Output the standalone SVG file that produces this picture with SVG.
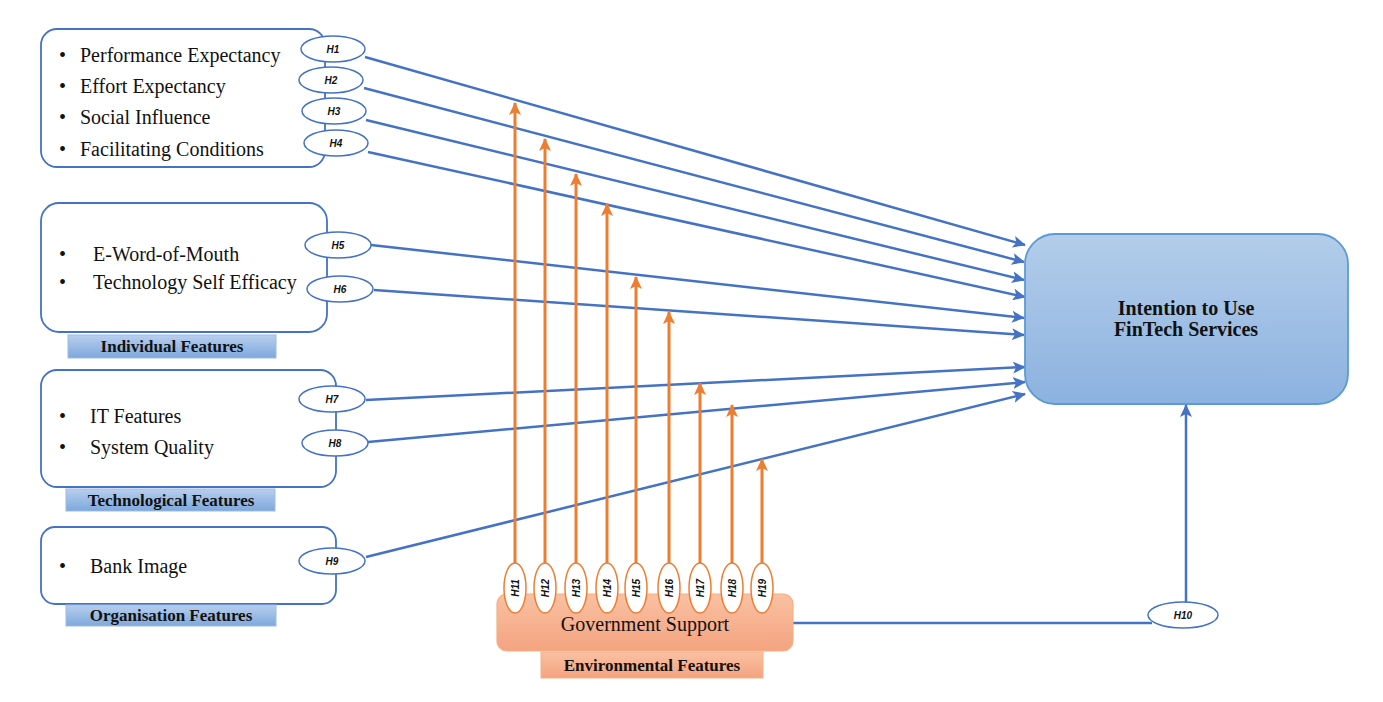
<svg xmlns="http://www.w3.org/2000/svg" width="1383" height="702" viewBox="0 0 1383 702">
<defs>
<linearGradient id="gBlue" x1="0" y1="0" x2="0" y2="1"><stop offset="0" stop-color="#b3cdea"/><stop offset="1" stop-color="#8cb2e0"/></linearGradient>
<linearGradient id="gLab" x1="0" y1="0" x2="0" y2="1"><stop offset="0" stop-color="#b7cfee"/><stop offset="1" stop-color="#7ea8dc"/></linearGradient>
<linearGradient id="gOr" x1="0" y1="0" x2="0" y2="1"><stop offset="0" stop-color="#f9c1a3"/><stop offset="1" stop-color="#f4a37f"/></linearGradient>
<marker id="ab" markerUnits="userSpaceOnUse" markerWidth="14" markerHeight="12" refX="12" refY="6" orient="auto"><path d="M0,0 L13,6 L0,12 L3,6 Z" fill="#4472c4"/></marker>
<marker id="ao" markerUnits="userSpaceOnUse" markerWidth="14" markerHeight="12" refX="12" refY="6" orient="auto"><path d="M0,0 L13,6 L0,12 L3,6 Z" fill="#ed7d31"/></marker>
<style>
.box{fill:#fff;stroke:#4472c4;stroke-width:1.8}
.t{font-family:"Liberation Serif",serif;font-size:20px;fill:#111}
.lab{font-family:"Liberation Serif",serif;font-size:17px;font-weight:bold;fill:#111;text-anchor:middle}
.labr{fill:url(#gLab);stroke:#9dbbe3;stroke-width:1}
.ell{fill:#fff;stroke:#4472c4;stroke-width:1.5}
.ello{fill:#fff;stroke:#ed7d31;stroke-width:1.5}
.h{font-family:"Liberation Sans",sans-serif;font-size:10px;font-weight:bold;font-style:italic;fill:#111;text-anchor:middle}
.cb{stroke:#4472c4;stroke-width:2.5;fill:none;marker-end:url(#ab)}
.cbn{stroke:#4472c4;stroke-width:2.5;fill:none}
.co{stroke:#ed7d31;stroke-width:3;fill:none;marker-end:url(#ao)}
</style>
</defs>

<g id="connectors">
<line class="cb" x1="365" y1="57" x2="1025" y2="245"/>
<line class="cb" x1="364" y1="88" x2="1024" y2="262"/>
<line class="cb" x1="366" y1="120" x2="1024" y2="280"/>
<line class="cb" x1="368" y1="152" x2="1025" y2="297"/>
<line class="cb" x1="371" y1="245" x2="1024" y2="318"/>
<line class="cb" x1="374" y1="290" x2="1024" y2="335"/>
<line class="cb" x1="366" y1="400" x2="1025" y2="367"/>
<line class="cb" x1="368" y1="442" x2="1025" y2="382"/>
<line class="cb" x1="366" y1="557" x2="1025" y2="394"/>
<line class="cbn" x1="793" y1="623" x2="1152" y2="623"/>
<line class="cb" x1="1186" y1="602" x2="1186" y2="405"/>
<line class="co" x1="515" y1="565" x2="515" y2="103"/>
<line class="co" x1="545" y1="565" x2="545" y2="139"/>
<line class="co" x1="576" y1="565" x2="576" y2="174"/>
<line class="co" x1="607" y1="565" x2="607" y2="204"/>
<line class="co" x1="636" y1="565" x2="636" y2="277"/>
<line class="co" x1="669" y1="565" x2="669" y2="312"/>
<line class="co" x1="700" y1="565" x2="700" y2="383"/>
<line class="co" x1="732" y1="565" x2="732" y2="405"/>
<line class="co" x1="762" y1="565" x2="762" y2="459"/>
</g>

<g id="node-uta">
<rect class="box" x="41" y="29" width="284" height="138" rx="16"/>
<text class="t" x="59" y="62">•</text><text class="t" x="80" y="62">Performance Expectancy</text>
<text class="t" x="59" y="93">•</text><text class="t" x="80" y="93">Effort Expectancy</text>
<text class="t" x="59" y="124">•</text><text class="t" x="80" y="124">Social Influence</text>
<text class="t" x="59" y="156">•</text><text class="t" x="80" y="156">Facilitating Conditions</text>
</g>

<g id="node-individual">
<rect class="box" x="41" y="203" width="286" height="129" rx="18"/>
<text class="t" x="59" y="261">•</text><text class="t" x="93" y="261">E-Word-of-Mouth</text>
<text class="t" x="59" y="289">•</text><text class="t" x="93" y="289">Technology Self Efficacy</text>
<rect class="labr" x="68" y="335" width="208" height="23"/>
<text class="lab" x="172" y="352">Individual Features</text>
</g>

<g id="node-technological">
<rect class="box" x="41" y="370" width="295" height="117" rx="16"/>
<text class="t" x="59" y="423">•</text><text class="t" x="90" y="423">IT Features</text>
<text class="t" x="59" y="454">•</text><text class="t" x="90" y="454">System Quality</text>
<rect class="labr" x="66" y="489" width="209" height="22"/>
<text class="lab" x="171" y="506">Technological Features</text>
</g>

<g id="node-organisation">
<rect class="box" x="41" y="527" width="295" height="77" rx="14"/>
<text class="t" x="59" y="573">•</text><text class="t" x="90" y="573">Bank Image</text>
<rect class="labr" x="66" y="605" width="210" height="21"/>
<text class="lab" x="171" y="621">Organisation Features</text>
</g>

<g id="node-government">
<rect x="497" y="594" width="296" height="57" rx="10" fill="url(#gOr)" stroke="#f4b183" stroke-width="1.2"/>
<text class="t" x="645" y="631" text-anchor="middle">Government Support</text>
<rect x="541" y="652" width="222" height="26" fill="url(#gOr)" stroke="#f4b183" stroke-width="1"/>
<text class="lab" x="652" y="671">Environmental Features</text>
</g>

<g id="node-intention">
<rect x="1025" y="234" width="323" height="170" rx="30" fill="url(#gBlue)" stroke="#5b9bd5" stroke-width="1.8"/>
<text class="t" x="1186" y="315" text-anchor="middle" font-weight="bold">Intention to Use</text>
<text class="t" x="1186" y="336" text-anchor="middle" font-weight="bold">FinTech Services</text>
</g>

<g id="hyp-labels">
<ellipse class="ell" cx="333" cy="49" rx="32" ry="13"/><text class="h" x="333" y="53">H1</text>
<ellipse class="ell" cx="331" cy="80" rx="32" ry="13"/><text class="h" x="331" y="84">H2</text>
<ellipse class="ell" cx="334" cy="111" rx="32" ry="13"/><text class="h" x="334" y="115">H3</text>
<ellipse class="ell" cx="336" cy="143" rx="32" ry="13"/><text class="h" x="336" y="147">H4</text>
<ellipse class="ell" cx="338" cy="245" rx="33" ry="13"/><text class="h" x="338" y="249">H5</text>
<ellipse class="ell" cx="340" cy="289" rx="33" ry="13"/><text class="h" x="340" y="293">H6</text>
<ellipse class="ell" cx="332" cy="399" rx="33" ry="13"/><text class="h" x="332" y="403">H7</text>
<ellipse class="ell" cx="335" cy="443" rx="33" ry="13"/><text class="h" x="335" y="447">H8</text>
<ellipse class="ell" cx="332" cy="561" rx="33" ry="13"/><text class="h" x="332" y="565">H9</text>
<ellipse class="ell" cx="1183" cy="615" rx="35" ry="13"/><text class="h" x="1183" y="619">H10</text>
<ellipse class="ello" cx="515" cy="588" rx="11" ry="25"/><text class="h" transform="translate(518.5 588) rotate(-90)">H11</text>
<ellipse class="ello" cx="545" cy="588" rx="11" ry="25"/><text class="h" transform="translate(548.5 588) rotate(-90)">H12</text>
<ellipse class="ello" cx="576" cy="588" rx="11" ry="25"/><text class="h" transform="translate(579.5 588) rotate(-90)">H13</text>
<ellipse class="ello" cx="607" cy="588" rx="11" ry="25"/><text class="h" transform="translate(610.5 588) rotate(-90)">H14</text>
<ellipse class="ello" cx="636" cy="588" rx="11" ry="25"/><text class="h" transform="translate(639.5 588) rotate(-90)">H15</text>
<ellipse class="ello" cx="669" cy="588" rx="11" ry="25"/><text class="h" transform="translate(672.5 588) rotate(-90)">H16</text>
<ellipse class="ello" cx="700" cy="588" rx="11" ry="25"/><text class="h" transform="translate(703.5 588) rotate(-90)">H17</text>
<ellipse class="ello" cx="732" cy="588" rx="11" ry="25"/><text class="h" transform="translate(735.5 588) rotate(-90)">H18</text>
<ellipse class="ello" cx="762" cy="588" rx="11" ry="25"/><text class="h" transform="translate(765.5 588) rotate(-90)">H19</text>
</g>
</svg>
